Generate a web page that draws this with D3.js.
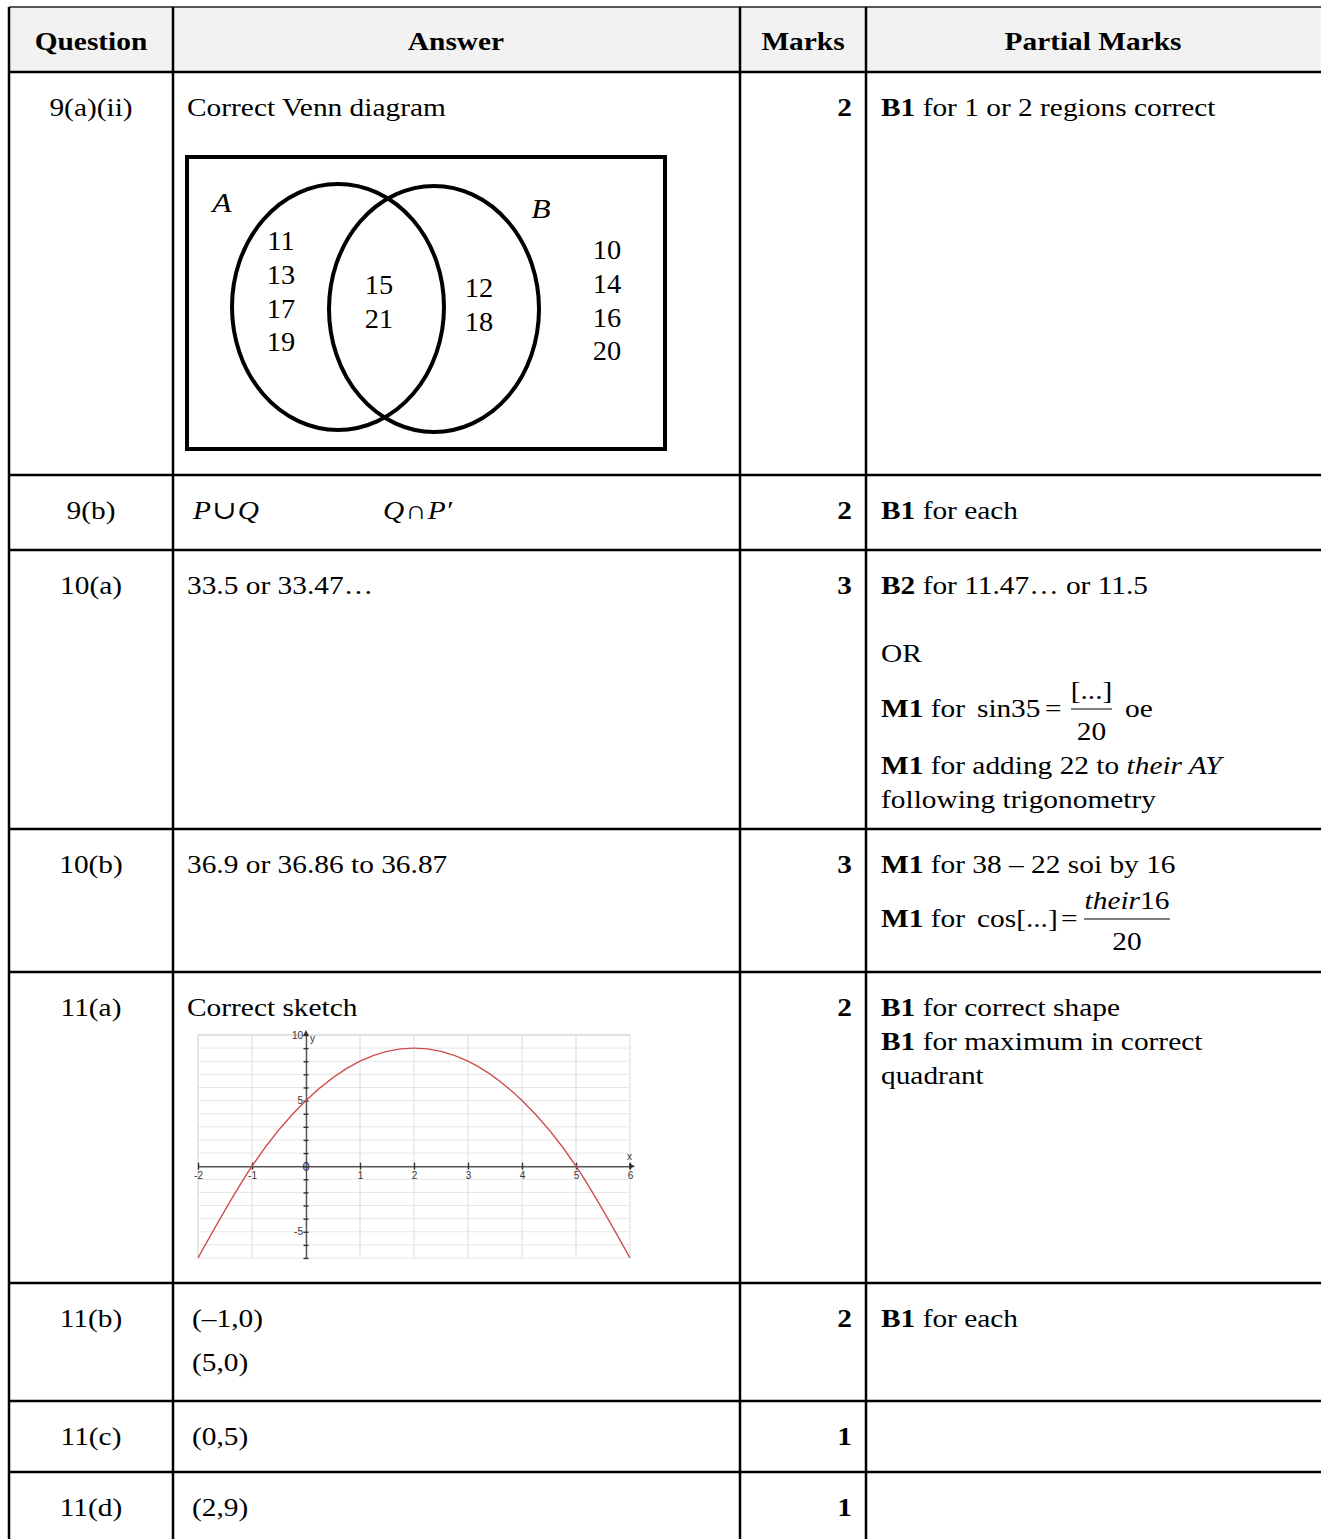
<!DOCTYPE html>
<html>
<head>
<meta charset="utf-8">
<script src="https://cdn.jsdelivr.net/npm/d3@7"></script>
<style>
    body { margin: 0; background: #fff; }
    svg { display: block; }
    svg text { font-family: "Liberation Serif", Tinos, "Times New Roman", "DejaVu Serif", serif; }
    svg .sketch text { font-family: "Liberation Sans", Arimo, Arial, "DejaVu Sans", sans-serif; }
</style>
</head>
<body>
<div id="vis-container"></div>
<script>
// Table text
const headers = ["Question", "Answer", "Marks", "Partial Marks"];
const questions = ["9(a)(ii)", "9(b)", "10(a)", "10(b)", "11(a)", "11(b)", "11(c)", "11(d)"];
const answers = ["Correct Venn diagram", "", "33.5 or 33.47…", "36.9 or 36.86 to 36.87", "Correct sketch", "(–1,0)|(5,0)", "(0,5)", "(2,9)"];
const marks = [2, 2, 3, 3, 2, 2, 1, 1];
const setAnswers = ["P ∪ Q", "Q ∩ P′"];

// Partial marks, one list of lines per row (**bold**, _italic_)
const partialMarks = [
    ["**B1** for 1 or 2 regions correct"],
    ["**B1** for each"],
    ["**B2** for 11.47… or 11.5", "OR", "**M1** for ", "**M1** for adding 22 to _their AY_", "following trigonometry"],
    ["**M1** for 38 – 22 soi by 16", "**M1** for "],
    ["**B1** for correct shape", "**B1** for maximum in correct", "quadrant"],
    ["**B1** for each"],
    [],
    []
];
const sinFraction = ["sin", "35", "[...]", "20", "oe"];
const cosFraction = ["cos[...]", "their", "16", "20"];

// Venn diagram regions
const vennLabels = ["A", "B"];
const onlyA = [11, 13, 17, 19];
const bothAB = [15, 21];
const onlyB = [12, 18];
const neither = [10, 14, 16, 20];

// Sketch points
const sketchX = [-2, -1, 0, 1, 2, 3, 4, 5, 6];
const sketchY = [-7, 0, 5, 8, 9, 8, 5, 0, -7];
const xTickValues = [-2, -1, 0, 1, 2, 3, 4, 5, 6];
const yTickLabels = [10, 5, -5];

// The scanned text is a little wider than the font
const STRETCH = 1.13;

function pos(x, y)
{
    return `translate(${x}, ${y}) scale(${STRETCH}, 1)`;
}

function main()
{
    const width = 1321;
    const height = 1539;
    const fontSize = 26;

    // Layout of the table
    const colEdges = [9, 173, 740, 866];
    const tableTop = 7;
    const rowTops = [72, 475, 550, 829, 972, 1283, 1401, 1472];

    const svg = d3.select("#vis-container")
        .append("svg")
        .attr("width", width)
        .attr("height", height);

    // Header background
    svg.append("rect")
        .attr("x", colEdges[0])
        .attr("y", tableTop)
        .attr("width", width - colEdges[0])
        .attr("height", rowTops[0] - tableTop)
        .attr("fill", "#f2f2f2");

    // Grid lines of the table
    svg.append("line")
        .attr("x1", colEdges[0]).attr("x2", width)
        .attr("y1", tableTop).attr("y2", tableTop)
        .attr("stroke", "#222").attr("stroke-width", 1.5);

    svg.selectAll(".row-line")
        .data(rowTops)
        .enter()
        .append("line")
        .attr("class", "row-line")
        .attr("x1", colEdges[0]).attr("x2", width)
        .attr("y1", d => d).attr("y2", d => d)
        .attr("stroke", "#000").attr("stroke-width", 2.5);

    svg.selectAll(".col-line")
        .data(colEdges)
        .enter()
        .append("line")
        .attr("class", "col-line")
        .attr("x1", d => d).attr("x2", d => d)
        .attr("y1", tableTop).attr("y2", height)
        .attr("stroke", "#000").attr("stroke-width", 2.5);

    // Header text
    const headerCenters = [91, 456, 803, 1093];
    svg.selectAll(".header")
        .data(headers)
        .enter()
        .append("text")
        .attr("class", "header")
        .attr("transform", (_, i) => pos(headerCenters[i], 50))
        .attr("text-anchor", "middle")
        .attr("font-size", fontSize)
        .attr("font-weight", "bold")
        .text(d => d);

    // Question column
    svg.selectAll(".question")
        .data(questions)
        .enter()
        .append("text")
        .attr("class", "question")
        .attr("transform", (_, i) => pos(91, rowTops[i] + 44))
        .attr("text-anchor", "middle")
        .attr("font-size", fontSize)
        .text(d => d);

    // Marks column
    svg.selectAll(".mark")
        .data(marks)
        .enter()
        .append("text")
        .attr("class", "mark")
        .attr("transform", (_, i) => pos(852, rowTops[i] + 44))
        .attr("text-anchor", "end")
        .attr("font-size", fontSize)
        .attr("font-weight", "bold")
        .text(d => d);

    // Answer column
    answers.forEach((ans, i) => {
        if (!ans) return;
        const lines = ans.split("|");
        const isCoord = ans.startsWith("(");
        lines.forEach((line, j) => {
            svg.append("text")
                .attr("transform", pos(isCoord ? 192 : 187, rowTops[i] + 44 + j * 44))
                .attr("font-size", fontSize)
                .text(line);
        });
    });

    // Set notation answers, italic letters
    const setX = [193, 383];
    setAnswers.forEach((expr, i) => {
        const t = svg.append("text")
            .attr("transform", pos(setX[i], rowTops[1] + 44))
            .attr("font-size", fontSize);
        expr.split(" ").forEach((tok, k) => {
            const isOp = tok === "∪" || tok === "∩";
            t.append("tspan")
                .attr("dx", k === 0 ? 0 : 1)
                .attr("font-style", isOp ? "normal" : "italic")
                .text(tok);
        });
    });

    // Partial marks column
    const partialBaselines = [
        [116],
        [519],
        [594, 662, 717, 774, 808],
        [873, 927],
        [1016, 1050, 1084],
        [1327],
        [],
        []
    ];

    partialMarks.forEach((lines, i) => {
        lines.forEach((line, j) => {
            richText(svg, 881, partialBaselines[i][j], line, fontSize);
        });
    });

    // sin 35 = [...] / 20  oe
    svg.append("text").attr("transform", pos(977, 717)).attr("font-size", fontSize).text(sinFraction[0]);
    svg.append("text").attr("transform", pos(1011, 717)).attr("font-size", fontSize).text(sinFraction[1]);
    svg.append("text").attr("transform", pos(1045, 717)).attr("font-size", fontSize).text("=");
    drawFraction(svg, 1071, 1112, 709, sinFraction[2], null, sinFraction[3], fontSize);
    svg.append("text").attr("transform", pos(1125, 717)).attr("font-size", fontSize).text(sinFraction[4]);

    // cos[...] = their16 / 20
    svg.append("text").attr("transform", pos(977, 927)).attr("font-size", fontSize).text(cosFraction[0]);
    svg.append("text").attr("transform", pos(1061, 927)).attr("font-size", fontSize).text("=");
    drawFraction(svg, 1084, 1170, 919, cosFraction[1], cosFraction[2], cosFraction[3], fontSize);

    drawVenn(svg);
    drawSketch(svg);
}

function richText(svg, x, y, line, size)
{
    const t = svg.append("text")
        .attr("transform", pos(x, y))
        .attr("font-size", size)
        .style("white-space", "pre");

    line.split(/(\*\*[^*]+\*\*|_[^_]+_)/).forEach(part => {
        if (!part) return;
        const span = t.append("tspan");
        if (part.startsWith("**"))
        {
            span.attr("font-weight", "bold").text(part.slice(2, -2));
        }
        else if (part.startsWith("_"))
        {
            span.attr("font-style", "italic").text(part.slice(1, -1));
        }
        else
        {
            span.text(part);
        }
    });
}

function drawFraction(svg, x1, x2, barY, numItalic, numTail, denom, size)
{
    const cx = (x1 + x2) / 2;

    svg.append("line")
        .attr("x1", x1).attr("x2", x2)
        .attr("y1", barY).attr("y2", barY)
        .attr("stroke", "#000").attr("stroke-width", 1.2);

    const num = svg.append("text")
        .attr("transform", pos(cx, barY - 10))
        .attr("text-anchor", "middle")
        .attr("font-size", size);

    if (numTail)
    {
        num.append("tspan").attr("font-style", "italic").text(numItalic);
        num.append("tspan").text(numTail);
    }
    else
    {
        num.text(numItalic);
    }

    svg.append("text")
        .attr("transform", pos(cx, barY + 31))
        .attr("text-anchor", "middle")
        .attr("font-size", size)
        .text(denom);
}

function drawVenn(svg)
{
    const g = svg.append("g").attr("class", "venn");

    g.append("rect")
        .attr("x", 187)
        .attr("y", 157)
        .attr("width", 478)
        .attr("height", 292)
        .attr("fill", "none")
        .attr("stroke", "#000")
        .attr("stroke-width", 4);

    const ellipses = [
        { cx: 338, cy: 307, rx: 106, ry: 123 },
        { cx: 434, cy: 309, rx: 105, ry: 123 }
    ];

    g.selectAll("ellipse")
        .data(ellipses)
        .enter()
        .append("ellipse")
        .attr("cx", d => d.cx)
        .attr("cy", d => d.cy)
        .attr("rx", d => d.rx)
        .attr("ry", d => d.ry)
        .attr("fill", "none")
        .attr("stroke", "#000")
        .attr("stroke-width", 4);

    const labelPos = [[222, 212], [541, 218]];
    g.selectAll(".set-label")
        .data(vennLabels)
        .enter()
        .append("text")
        .attr("class", "set-label")
        .attr("transform", (_, i) => pos(labelPos[i][0], labelPos[i][1]))
        .attr("text-anchor", "middle")
        .attr("font-size", 28)
        .attr("font-style", "italic")
        .text(d => d);

    const regions = [
        { values: onlyA, x: 281, y: 250 },
        { values: bothAB, x: 379, y: 294 },
        { values: onlyB, x: 479, y: 297 },
        { values: neither, x: 607, y: 259 }
    ];

    regions.forEach(region => {
        g.selectAll(null)
            .data(region.values)
            .enter()
            .append("text")
            .attr("transform", (_, i) => `translate(${region.x}, ${region.y + i * 33.8}) scale(1.05, 1)`)
            .attr("text-anchor", "middle")
            .attr("font-size", 27)
            .text(d => d);
    });
}

function drawSketch(svg)
{
    const xScale = d3.scaleLinear().domain([-2, 6]).range([198, 630]);
    const yScale = d3.scaleLinear().domain([-7, 10]).range([1258, 1035]);

    const g = svg.append("g").attr("class", "sketch");

    // Background grid
    g.selectAll(".hgrid")
        .data(d3.range(-7, 11))
        .enter()
        .append("line")
        .attr("class", "hgrid")
        .attr("x1", xScale(-2)).attr("x2", xScale(6))
        .attr("y1", d => yScale(d)).attr("y2", d => yScale(d))
        .attr("stroke", "#e6e6e6").attr("stroke-width", 1);

    g.selectAll(".vgrid")
        .data(xTickValues)
        .enter()
        .append("line")
        .attr("class", "vgrid")
        .attr("x1", d => xScale(d)).attr("x2", d => xScale(d))
        .attr("y1", yScale(10)).attr("y2", yScale(-7))
        .attr("stroke", d => (d === -2 ? "#d0d0d0" : "#dcdcdc")).attr("stroke-width", 1);

    g.append("line")
        .attr("x1", xScale(-2)).attr("x2", xScale(6))
        .attr("y1", yScale(10)).attr("y2", yScale(10))
        .attr("stroke", "#d0d0d0");

    // x-axis
    const xAxis = d3.axisBottom(xScale)
        .tickValues(xTickValues)
        .tickSizeOuter(0)
        .tickSizeInner(4)
        .tickFormat(d => (d === 0 ? "" : String(d)));

    const xg = g.append("g")
        .attr("transform", `translate(0, ${yScale(0)})`)
        .call(xAxis);

    xg.attr("font-family", null);
    xg.select(".domain").attr("stroke", "#555").attr("stroke-width", 1.6);
    xg.selectAll(".tick line").attr("y1", -3.5).attr("y2", 3.5).attr("stroke", "#333").attr("stroke-width", 1.4);
    xg.selectAll(".tick text")
        .attr("y", 6)
        .attr("font-size", 10)
        .attr("fill", "#333");

    // y-axis
    const yAxis = d3.axisLeft(yScale)
        .tickValues(d3.range(-7, 11))
        .tickSizeOuter(0)
        .tickSizeInner(3)
        .tickFormat(d => (yTickLabels.includes(d) ? String(d) : ""));

    const yg = g.append("g")
        .attr("transform", `translate(${xScale(0)}, 0)`)
        .call(yAxis);

    yg.attr("font-family", null);
    yg.select(".domain").attr("stroke", "#555").attr("stroke-width", 1.4);
    yg.selectAll(".tick line").attr("x1", -2.5).attr("x2", 2.5).attr("stroke", "#333").attr("stroke-width", 1.4);
    yg.selectAll(".tick text")
        .attr("x", -3)
        .attr("font-size", 10)
        .attr("fill", "#333");

    // Arrow heads
    g.append("path")
        .attr("d", `M${xScale(6) + 5},${yScale(0)} l-6,-3 l0,6 z`)
        .attr("fill", "#333");
    g.append("path")
        .attr("d", `M${xScale(0)},${yScale(10) - 5} l-3,6 l6,0 z`)
        .attr("fill", "#333");

    // Axis names and origin
    g.append("text")
        .attr("x", xScale(6) - 3).attr("y", yScale(0) - 6)
        .attr("font-size", 10).attr("fill", "#333")
        .text("x");
    g.append("text")
        .attr("x", xScale(0) + 4).attr("y", yScale(10) + 7)
        .attr("font-size", 10).attr("fill", "#333")
        .text("y");
    g.append("text")
        .attr("x", xScale(0)).attr("y", yScale(0) + 4.5)
        .attr("text-anchor", "middle")
        .attr("font-size", 13).attr("fill", "#333")
        .text("0");

    // Curve
    const points = sketchX.map((x, i) => [x, sketchY[i]]);
    const line = d3.line()
        .x(d => xScale(d[0]))
        .y(d => yScale(d[1]))
        .curve(d3.curveNatural);

    g.append("path")
        .datum(points)
        .attr("d", line)
        .attr("fill", "none")
        .attr("stroke", "#cf4b4b")
        .attr("stroke-width", 1.4);
}

document.addEventListener("DOMContentLoaded", main);
</script>
</body>
</html>
